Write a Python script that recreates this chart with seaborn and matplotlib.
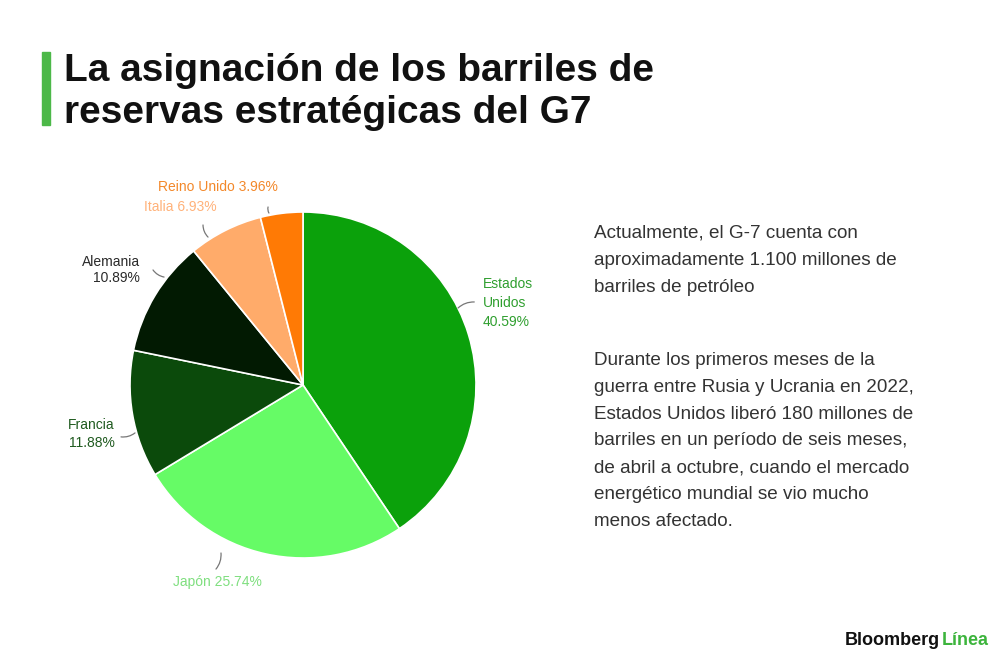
import matplotlib.pyplot as plt
import seaborn as sns

# data
countries = ["Estados Unidos", "Japón", "Francia", "Alemania", "Italia", "Reino Unido"]
shares = [40.59, 25.74, 11.88, 10.89, 6.93, 3.96]
label_texts = ["Estados\nUnidos\n40.59%", "Japón 25.74%", "Francia\n11.88%",
               "Alemania\n10.89%", "Italia 6.93%", "Reino Unido 3.96%"]

title_lines = ["La asignación de los barriles de", "reservas estratégicas del G7"]
para1 = ["Actualmente, el G-7 cuenta con",
         "aproximadamente 1.100 millones de",
         "barriles de petróleo"]
para2 = ["Durante los primeros meses de la",
         "guerra entre Rusia y Ucrania en 2022,",
         "Estados Unidos liberó 180 millones de",
         "barriles en un período de seis meses,",
         "de abril a octubre, cuando el mercado",
         "energético mundial se vio mucho",
         "menos afectado."]

slice_colors = ["#0ba10b", "#66fb66", "#0b4a0b", "#021a02", "#ffab6a", "#ff7a05"]
text_colors = ["#2f9f2f", "#7fdf7f", "#1f5a1f", "#2a2a2a", "#ffb27a", "#f3882a"]

# label layout (pie radius = 1): text position, alignment, spacing, leader start/end
label_pos = [(1.04, 0.474), (-0.497, -1.139), (-1.087, -0.283),
             (-0.942, 0.665), (-0.497, 1.029), (-0.145, 1.145)]
label_ha = ["left", "center", "right", "right", "right", "right"]
label_spacing = [1.45, 1.2, 1.35, 1.15, 1.2, 1.2]
leaders = [((0.99, 0.48), (0.896, 0.445)),
           ((-0.503, -1.064), (-0.474, -0.971)),
           ((-1.052, -0.30), (-0.971, -0.277)),
           ((-0.867, 0.665), (-0.803, 0.624)),
           ((-0.578, 0.925), (-0.549, 0.855)),
           ((-0.202, 1.029), (-0.197, 0.994))]

sns.set_theme(style="white")
plt.rcParams["font.family"] = ["Liberation Sans", "DejaVu Sans"]

fig = plt.figure(figsize=(10, 6.6), dpi=100)
fig.patch.set_facecolor("white")

# pie axes: 400x400 px centred at (303, 385) from top
ax = fig.add_axes([103 / 1000, (660 - 385 - 200) / 660, 400 / 1000, 400 / 660])
ax.pie(shares, colors=slice_colors, startangle=90, counterclock=False,
       radius=1.0, wedgeprops=dict(edgecolor="white", linewidth=1.2))
lim = 200 / 173
ax.set_xlim(-lim, lim)
ax.set_ylim(-lim, lim)
ax.set_aspect("equal")
ax.axis("off")

for txt, (x, y), ha, ls, col, (p0, p1) in zip(label_texts, label_pos, label_ha,
                                               label_spacing, text_colors, leaders):
    ax.text(x, y, txt, ha=ha, va="center", color=col, fontsize=10,
            linespacing=ls, multialignment=ha)
    ax.annotate("", xy=p1, xytext=p0,
                arrowprops=dict(arrowstyle="-", color="#777777", lw=0.9,
                                connectionstyle="arc3,rad=0.2",
                                shrinkA=0, shrinkB=0))

# title with green bar
fig.patches.append(plt.Rectangle((42 / 1000, 1 - 125 / 660), 8 / 1000, 73 / 660,
                                 transform=fig.transFigure, color="#4cb848"))
for line, base in zip(title_lines, [81, 123]):
    fig.text(64 / 1000, 1 - base / 660, line, fontsize=28, fontweight="bold",
             color="#111111", va="baseline", ha="left")

# side text
for line, base in zip(para1, [238, 265, 292]):
    fig.text(594 / 1000, 1 - base / 660, line, fontsize=13.6, color="#333333",
             va="baseline", ha="left")
for i, line in enumerate(para2):
    fig.text(594 / 1000, 1 - (365 + i * 26.8) / 660, line, fontsize=13.6,
             color="#333333", va="baseline", ha="left")

# logo
fig.text(845 / 1000, 1 - 645 / 660, "Bloomberg", fontsize=13,
         fontweight="bold", color="#111111", va="baseline", ha="left")
fig.text(942 / 1000, 1 - 645 / 660, "Línea", fontsize=13,
         fontweight="bold", color="#3cb43c", va="baseline", ha="left")

fig.savefig("out.png", dpi=100, facecolor="white")
